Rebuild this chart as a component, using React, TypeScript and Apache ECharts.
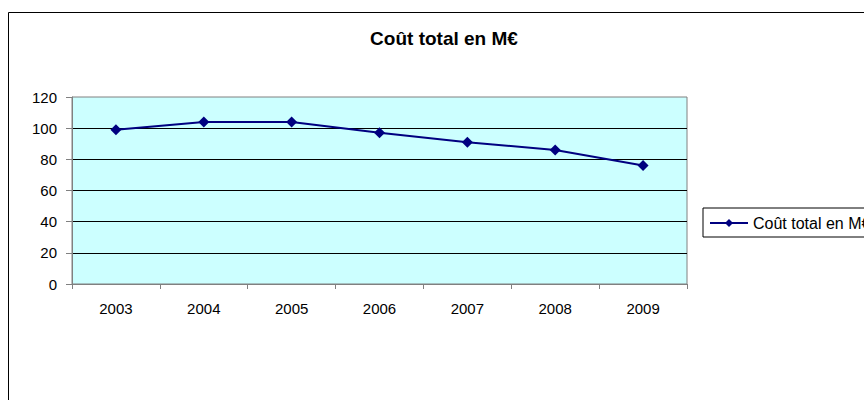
import React, { useEffect, useRef } from "react";
import * as echarts from "echarts";

// Annual total cost, in millions of euros
const years: string[] = ["2003", "2004", "2005", "2006", "2007", "2008", "2009"];
const totalCost: number[] = [99, 104, 104, 97, 91, 86, 76];
const seriesName = "Coût total en M€";
const yTicks = { min: 0, max: 120, interval: 20 };

const FONT = "'Liberation Sans', Arial, sans-serif";
const NAVY = "#000080";
const AXIS_GREY = "#808080";

export default function App() {
  const ref = useRef<HTMLDivElement>(null);

  useEffect(() => {
    if (!ref.current) return;
    const chart = echarts.init(ref.current, undefined, { renderer: "svg" });
    chart.setOption({
      animation: false,
      backgroundColor: "#ffffff",
      textStyle: { fontFamily: FONT },
      title: {
        text: seriesName,
        left: 444,
        top: 29,
        textAlign: "center",
        padding: 0,
        textStyle: { fontFamily: FONT, fontSize: 19, fontWeight: "bold", color: "#000" },
      },
      legend: {
        left: 703,
        top: 208,
        orient: "vertical",
        padding: [7, 8, 6, 6],
        borderColor: "#000",
        borderWidth: 1,
        backgroundColor: "#ffffff",
        itemWidth: 38,
        itemHeight: 10,
        itemGap: 6,
        textStyle: { fontFamily: FONT, fontSize: 16, color: "#000", padding: [0, 0, 0, 0] },
        data: [seriesName],
      },
      grid: {
        left: 72,
        top: 97,
        width: 615,
        height: 187,
        show: true,
        backgroundColor: "#CCFFFF",
        borderColor: AXIS_GREY,
        borderWidth: 1,
      },
      xAxis: {
        type: "category",
        data: years,
        boundaryGap: true,
        axisLine: { show: true, lineStyle: { color: AXIS_GREY, width: 1 } },
        axisTick: { show: true, length: 5, alignWithLabel: false, lineStyle: { color: AXIS_GREY } },
        axisLabel: { margin: 17, fontFamily: FONT, fontSize: 15, color: "#000" },
        splitLine: { show: false },
      },
      yAxis: {
        type: "value",
        min: yTicks.min,
        max: yTicks.max,
        interval: yTicks.interval,
        axisLine: { show: true, lineStyle: { color: AXIS_GREY, width: 1 } },
        axisTick: { show: true, length: 6, lineStyle: { color: AXIS_GREY } },
        axisLabel: { margin: 15, fontFamily: FONT, fontSize: 15, color: "#000" },
        splitLine: { show: true, showMaxLine: false, lineStyle: { color: "#000", width: 1 } },
      },
      graphic: [
        {
          type: "rect",
          shape: { x: 8.5, y: 12.5, width: 1000, height: 500 },
          style: { fill: "none", stroke: "#000", lineWidth: 1 },
          silent: true,
          z: 100,
        },
      ],
      series: [
        {
          name: seriesName,
          type: "line",
          data: totalCost,
          symbol: "diamond",
          symbolSize: 11,
          lineStyle: { color: NAVY, width: 2 },
          itemStyle: { color: NAVY },
        },
      ],
    });
    return () => chart.dispose();
  }, []);

  return (
    <div
      ref={ref}
      style={{ position: "fixed", left: 0, top: 0, width: 864, height: 400, background: "#fff" }}
    />
  );
}
